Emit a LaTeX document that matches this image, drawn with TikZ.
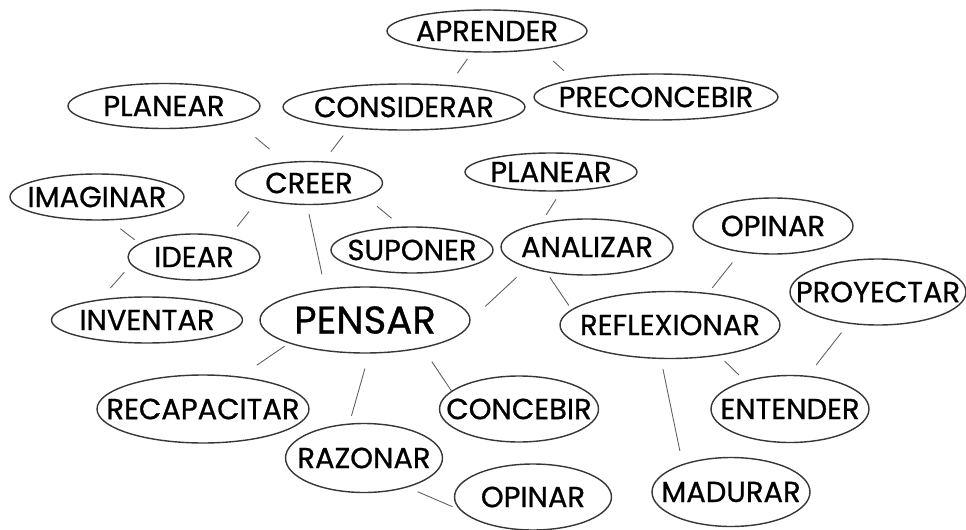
\documentclass[tikz,border=0pt]{standalone}
\usepackage{fontspec}
\setmainfont{Poppins}[FakeBold=0.8]
\usetikzlibrary{shapes.geometric}
\definecolor{rim}{RGB}{55,55,55}
\definecolor{wire}{RGB}{95,95,95}
\newcommand{\wordbox}[1]{\makebox[0pt]{#1}}

\begin{document}
\begin{tikzpicture}[x=0.02cm, y=-0.02cm,
  word/.style={ellipse, draw=rim, line width=0.8pt, fill=white, inner sep=0pt, font=\fontsize{16.5}{18}\selectfont},
  link/.style={draw=wire, line width=0.5pt},
  trim/.style 2 args={shorten <=#1*0.02cm, shorten >=#2*0.02cm}]
  \useasboundingbox (0,0) rectangle (966,530);

  % upper row
  \node[word, minimum width=4cm, minimum height=0.84cm] (aprender) at (487,31) {\wordbox{APRENDER}};
  \node[word, minimum width=3.84cm, minimum height=0.9cm] (planearA) at (164,106) {\wordbox{PLANEAR}};
  \node[word, minimum width=4.84cm, minimum height=0.92cm] (considerar) at (404,107) {\wordbox{CONSIDERAR}};
  \node[word, minimum width=4.88cm, minimum height=0.92cm] (preconcebir) at (656,97) {\wordbox{PRECONCEBIR}};

  % around CREER
  \node[word, minimum width=2.94cm, minimum height=0.86cm] (creer) at (309,183) {\wordbox{CREER}};
  \node[word, minimum width=3.48cm, minimum height=0.92cm] (imaginar) at (97,197) {\wordbox{IMAGINAR}};
  \node[word, minimum width=2.64cm, minimum height=0.92cm] (idear) at (194,257) {\wordbox{IDEAR}};
  \node[word, minimum width=3.82cm, minimum height=0.92cm] (inventar) at (147,320) {\wordbox{INVENTAR}};
  \node[word, minimum width=3.24cm, minimum height=0.92cm] (suponer) at (412,250) {\wordbox{SUPONER}};

  % right side
  \node[word, minimum width=3.44cm, minimum height=0.76cm] (planearB) at (551,172) {\wordbox{PLANEAR}};
  \node[word, minimum width=3.44cm, minimum height=1.12cm] (analizar) at (587,247) {\wordbox{ANALIZAR}};
  \node[word, minimum width=3.2cm, minimum height=1.12cm] (opinarA) at (773,226) {\wordbox{OPINAR}};
  \node[word, minimum width=3.52cm, minimum height=1.32cm] (proyectar) at (878,292) {\wordbox{PROYECTAR}};
  \node[word, minimum width=4.4cm, minimum height=1.34cm] (reflexionar) at (670,325) {\wordbox{REFLEXIONAR}};
  \node[word, minimum width=3.16cm, minimum height=1.34cm] (entender) at (790,409) {\wordbox{ENTENDER}};
  \node[word, minimum width=3.16cm, minimum height=1.38cm] (madurar) at (731,492) {\wordbox{MADURAR}};

  % centre and below
  \node[word, minimum width=4.2cm, minimum height=1.32cm, font=\fontsize{22}{24}\selectfont] (pensar) at (365,320) {\wordbox{PENSAR}};
  \node[word, minimum width=4.24cm, minimum height=1.36cm] (recapacitar) at (203,409) {\wordbox{RECAPACITAR}};
  \node[word, minimum width=3.18cm, minimum height=1.32cm] (concebir) at (519,409) {\wordbox{CONCEBIR}};
  \node[word, minimum width=3.14cm, minimum height=1.38cm] (razonar) at (364,458) {\wordbox{RAZONAR}};
  \node[word, minimum width=3.14cm, minimum height=1.32cm] (opinarB) at (533,497) {\wordbox{OPINAR}};

  % links
  \draw[link, trim={7.8}{14.4}] (aprender.235) -- (considerar.26);
  \draw[link, trim={17.4}{13}] (aprender.341) -- (preconcebir.168);
  \draw[link, trim={25}{20}] (planearA.348) -- (creer.139);
  \draw[link, trim={9.4}{11.9}] (considerar.201) -- (creer.56);
  \draw[link, trim={15.5}{13.2}] (creer.198) -- (idear.30);
  \draw[link, trim={14.1}{13}] (creer.346) -- (suponer.114);
  \draw[link, trim={9.2}{14.7}] (creer.265) -- (pensar.142);
  \draw[link, trim={13.7}{5.8}] (imaginar.298) -- (idear.166);
  \draw[link, trim={10}{15}] (idear.187) -- (inventar.156);
  \draw[link, trim={5.1}{20}] (pensar.197) -- (recapacitar.41);
  \draw[link, trim={15.5}{7.9}] (pensar.277) -- (razonar.113);
  \draw[link, trim={16.2}{0}] (pensar.334) -- (concebir.165);
  \draw[link, trim={10.9}{8}] (razonar.326) -- (opinarB.190);
  \draw[link, trim={9.3}{9.2}] (planearB.297) -- (analizar.152);
  \draw[link, trim={14.3}{20}] (analizar.199) -- (pensar.0);
  \draw[link, trim={6.1}{4.7}] (analizar.212) -- (reflexionar.171);
  \draw[link, trim={13.1}{6.4}] (opinarA.219) -- (reflexionar.40);
  \draw[link, trim={7.9}{8.3}] (reflexionar.328) -- (entender.148);
  \draw[link, trim={10.3}{13.5}] (reflexionar.255) -- (madurar.150);
  \draw[link, trim={11.2}{13.7}] (proyectar.227) -- (entender.62);
\end{tikzpicture}
\end{document}
